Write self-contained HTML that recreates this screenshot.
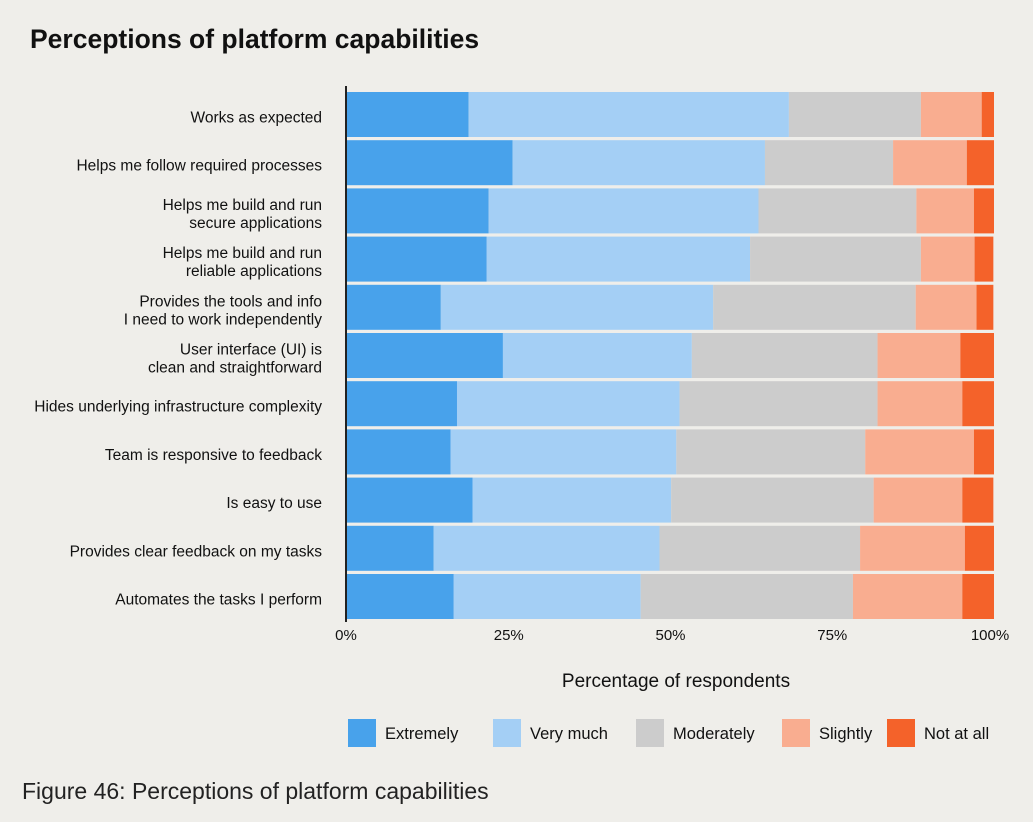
<!DOCTYPE html>
<html><head><meta charset="utf-8"><style>
body{margin:0;background:#efeeea;font-family:"Liberation Sans",sans-serif;}
svg{display:block}
</style></head><body>
<svg id="chart" width="1033" height="822" xmlns="http://www.w3.org/2000/svg">
<rect width="1033" height="822" fill="#efeeea"/>
<text x="30" y="48" font-size="26.5" font-weight="bold" fill="#111">Perceptions of platform capabilities</text>
<g id="bars"></g>
<g id="labels"></g>
<g id="ticks"></g>
<line x1="346" y1="86" x2="346" y2="622" stroke="#222" stroke-width="2"/>
<text x="676" y="687" font-size="19" fill="#111" text-anchor="middle">Percentage of respondents</text>
<g id="legend"></g>
<text x="22" y="799" font-size="23" fill="#222">Figure 46: Perceptions of platform capabilities</text>
</svg>
<script>
const categories=[["Works as expected"],["Helps me follow required processes"],["Helps me build and run","secure applications"],["Helps me build and run","reliable applications"],["Provides the tools and info","I need to work independently"],["User interface (UI) is","clean and straightforward"],["Hides underlying infrastructure complexity"],["Team is responsive to feedback"],["Is easy to use"],["Provides clear feedback on my tasks"],["Automates the tasks I perform"]];
const seriesNames=["Extremely","Very much","Moderately","Slightly","Not at all"];
const extremely=[18.8,25.6,21.9,21.6,14.5,24.1,17.0,16.0,19.4,13.4,16.5];
const veryMuch=[49.5,39.0,41.7,40.7,42.1,29.2,34.4,34.9,30.7,34.9,28.9];
const moderately=[20.4,19.8,24.4,26.4,31.3,28.7,30.6,29.2,31.3,31.0,32.8];
const slightly=[9.4,11.4,8.9,8.3,9.4,12.8,13.1,16.8,13.7,16.2,16.9];
const notAtAll=[1.9,4.2,3.1,2.9,2.6,5.2,4.9,3.1,4.8,4.5,4.9];
const tickValues=[0,25,50,75,100];
const tickLabels=["0%","25%","50%","75%","100%"];
const colors=["#48a2eb","#a4cff5","#cccccc","#f9ad90","#f4622a"];
const NS="http://www.w3.org/2000/svg";
const x0=347,x1=994;
const xs=v=>x0+(x1-x0)*v/100;
const rowY=i=>92+i*48.2;
const barH=45;
const series=[extremely,veryMuch,moderately,slightly,notAtAll];
const bars=document.getElementById('bars'),labels=document.getElementById('labels'),ticks=document.getElementById('ticks'),legend=document.getElementById('legend');
function mk(t,a){const e=document.createElementNS(NS,t);for(const k in a)e.setAttribute(k,a[k]);return e;}
categories.forEach((c,i)=>{
  let acc=0;
  series.forEach((s,j)=>{
    const r=mk('rect',{x:xs(acc),y:rowY(i),width:Math.max(0,xs(acc+s[i])-xs(acc)),height:barH,fill:colors[j]});
    
    
    bars.appendChild(r);acc+=s[i];
  });
  const cy=rowY(i)+barH/2;
  const t=mk('text',{x:322,'font-size':15.5,fill:'#111','text-anchor':'end'});
  
  
  c.forEach((ln,k)=>{const ts=mk('tspan',{x:322,y:cy+8+(k-(c.length-1)/2)*18});ts.textContent=ln;t.appendChild(ts);});
  labels.appendChild(t);
});
tickValues.forEach((v,i)=>{
  const t=mk('text',{x:v===0?xs(v)-1:(v===100?xs(v)-4:xs(v)),y:640,'font-size':15,fill:'#111','text-anchor':'middle'});
  t.textContent=tickLabels[i];
  
  
  ticks.appendChild(t);
});
const legX=[348,493,636,782,887];
seriesNames.forEach((n,j)=>{
  const g=mk('g',{});
  
  
  g.appendChild(mk('rect',{x:legX[j],y:719,width:28,height:28,fill:colors[j]}));
  const t=mk('text',{x:legX[j]+37,y:739,'font-size':16.5,fill:'#111'});t.textContent=n;g.appendChild(t);
  legend.appendChild(g);
});
</script>
</body></html>
